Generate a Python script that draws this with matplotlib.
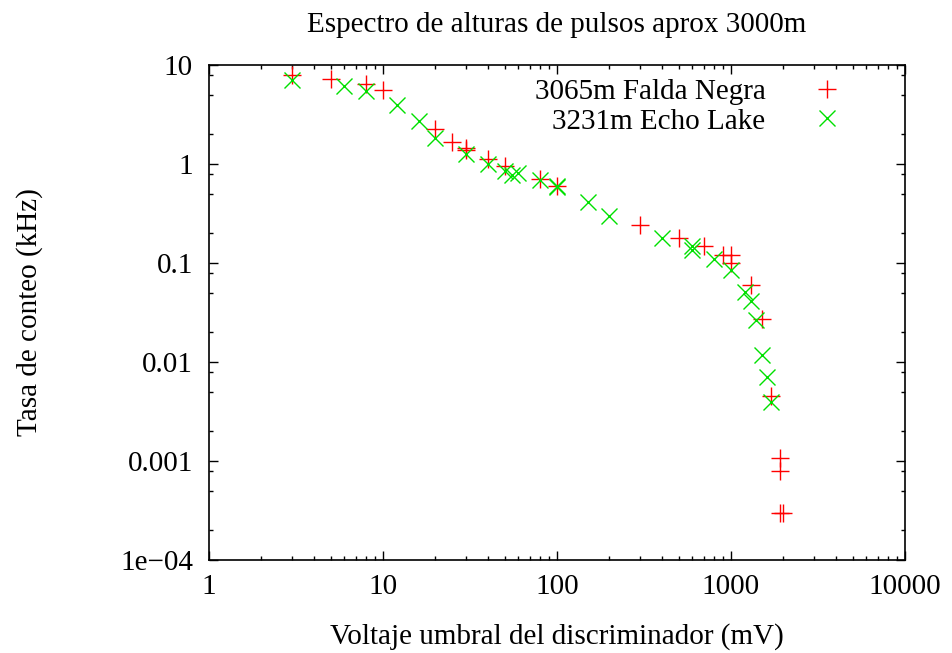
import numpy as np
import matplotlib
matplotlib.use("Agg")
import matplotlib.pyplot as plt
from matplotlib.ticker import LogLocator, FixedLocator, FixedFormatter, NullFormatter

plt.rcParams['font.family'] = ['Liberation Serif', 'DejaVu Serif']

# 3065m Falda Negra
x_fn = [3, 5, 8, 10, 20, 25, 30, 30, 40, 50, 80, 100, 300, 500, 700,
        900, 1000, 1000, 1300, 1500, 1700, 1900, 1900, 1900, 2000]
y_fn = [8.0, 7.3, 6.4, 5.6, 2.25, 1.65, 1.45, 1.38, 1.12, 0.96, 0.70, 0.60,
        0.24, 0.18, 0.15, 0.12, 0.12, 0.10, 0.060, 0.027, 0.0045,
        0.00106, 0.00079, 0.0003, 0.0003]

# 3231m Echo Lake
x_el = [3, 6, 8, 12, 16, 20, 30, 40, 50, 55, 60, 80, 100, 100, 150, 200,
        400, 600, 600, 800, 1000, 1200, 1300, 1400, 1500, 1600, 1700]
y_el = [7.0, 6.1, 5.4, 3.9, 2.7, 1.85, 1.27, 1.0, 0.85, 0.78, 0.82, 0.69,
        0.58, 0.60, 0.41, 0.30, 0.18, 0.15, 0.135, 0.11, 0.085, 0.051,
        0.041, 0.0265, 0.0118, 0.0070, 0.0039]

y_ticks = [1e-4, 1e-3, 1e-2, 1e-1, 1, 10]
y_labels = ['1e\u221204', '0.001', '0.01', '0.1', '1', '10']
x_ticks = [1, 10, 100, 1000, 10000]
x_labels = ['1', '10', '100', '1000', '10000']

fs = 21
W, H = 953, 653

fig = plt.figure(figsize=(W / 100, H / 100), dpi=100)
ax = fig.add_axes([209 / W, 1 - 560 / H, 696 / W, 495 / H])

ax.plot(x_fn, y_fn, linestyle='none', marker='+', color='#ff0000',
        markersize=13, markeredgewidth=1.0, label='3065m Falda Negra')
ax.plot(x_el, y_el, linestyle='none', marker='x', color='#00e000',
        markersize=11, markeredgewidth=1.0, label='3231m Echo Lake')

ax.set_xscale('log')
ax.set_yscale('log')
ax.set_xlim(1, 10000)
ax.set_ylim(1e-4, 10)

ax.xaxis.set_major_locator(FixedLocator(x_ticks))
ax.xaxis.set_major_formatter(FixedFormatter(x_labels))
ax.xaxis.set_minor_locator(LogLocator(base=10, subs=np.arange(2, 10)))
ax.xaxis.set_minor_formatter(NullFormatter())
ax.yaxis.set_major_locator(FixedLocator(y_ticks))
ax.yaxis.set_major_formatter(FixedFormatter(y_labels))
ax.yaxis.set_minor_locator(LogLocator(base=10, subs=(2, 5, 8)))
ax.yaxis.set_minor_formatter(NullFormatter())

ax.tick_params(which='both', direction='in', top=True, right=True,
               labelsize=fs, width=1.0)
ax.tick_params(which='major', length=6.5)
ax.tick_params(which='minor', length=3)
ax.tick_params(axis='x', pad=10)
ax.tick_params(axis='y', pad=11.5)
for s in ax.spines.values():
    s.set_linewidth(1.2)

fig.text(557 / W, 1 - 32 / H, 'Espectro de alturas de pulsos aprox 3000m',
         fontsize=fs, ha='center', va='baseline')
fig.text(557 / W, 1 - 644 / H, 'Voltaje umbral del discriminador (mV)',
         fontsize=fs, ha='center', va='baseline')
fig.text(30 / W, 1 - 312 / H, 'Tasa de conteo (kHz)', fontsize=fs,
         rotation=90, ha='center', va='center')

# markerfirst=False right-aligns the rows, like gnuplot's key
ax.legend(loc='upper right', bbox_to_anchor=(0.917, 0.972),
          markerfirst=False, frameon=False, fontsize=fs,
          handlelength=1.4, handletextpad=1.4, labelspacing=0.1,
          borderpad=0, borderaxespad=0)

fig.savefig('out.png', dpi=100)
